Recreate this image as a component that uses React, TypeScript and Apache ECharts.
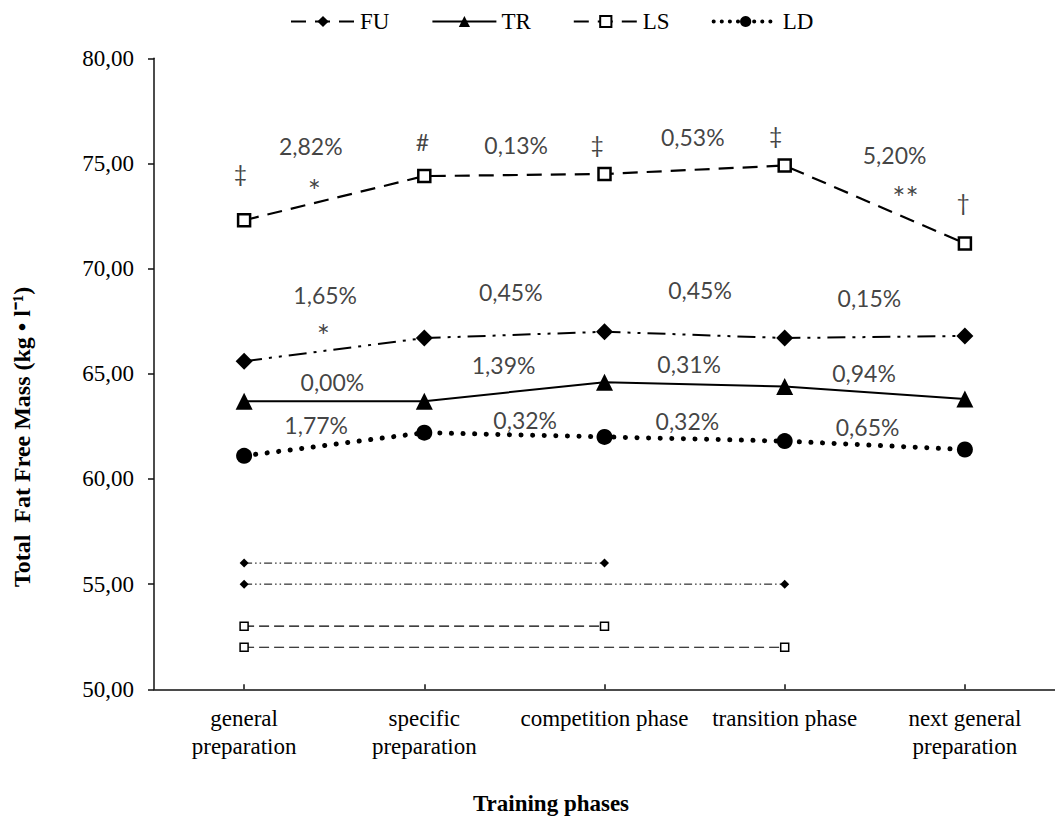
import React, { useEffect, useRef } from "react";
import * as echarts from "echarts";

const categories = [
  "general\npreparation",
  "specific\npreparation",
  "competition phase",
  "transition phase",
  "next general\npreparation",
];
const seriesNames = ["FU", "TR", "LS", "LD"];
const fuValues = [65.6, 66.7, 67.0, 66.7, 66.8];
const trValues = [63.7, 63.7, 64.6, 64.4, 63.8];
const lsValues = [72.3, 74.4, 74.5, 74.9, 71.2];
const ldValues = [61.1, 62.2, 62.0, 61.8, 61.4];

// significance bars (bottom)
const fuSigA = [56, 56, 56, null, null];
const fuSigB = [55, 55, 55, 55, null];
const lsSigA = [53, 53, 53, null, null];
const lsSigB = [52, 52, 52, 52, null];

const yMin = 50;
const yMax = 80;
const yInterval = 5;

// annotations: text, x (category index units), y (value units)
const annTexts = [
  "‡", "2,82%", "*", "#", "0,13%", "‡", "0,53%", "‡", "5,20%", "**", "†",
  "1,65%", "*", "0,45%", "0,45%", "0,15%",
  "0,00%", "1,39%", "0,31%", "0,94%",
  "1,77%", "0,32%", "0,32%", "0,65%",
];
const annX = [
  -0.02, 0.37, 0.39, 0.99, 1.51, 1.96, 2.49, 2.95, 3.61, 3.67, 3.99,
  0.45, 0.44, 1.48, 2.53, 3.47,
  0.49, 1.44, 2.47, 3.44,
  0.4, 1.56, 2.46, 3.46,
];
const annY = [
  74.55, 75.84, 73.72, 76.03, 75.88, 75.93, 76.27, 76.36, 75.41, 73.4, 73.18,
  68.75, 66.83, 68.89, 68.99, 68.61,
  64.61, 65.42, 65.47, 65.04,
  62.57, 62.81, 62.76, 62.47,
];

const SERIF = "'Liberation Serif', 'Times New Roman', serif";
const SANS = "Lato, 'Open Sans', sans-serif";

function sigData(vals: (number | null)[], size: number) {
  const idx = vals.map((v, i) => (v == null ? -1 : i)).filter((i) => i >= 0);
  const first = idx[0];
  const last = idx[idx.length - 1];
  return vals.map((v, i) => ({
    value: v,
    symbolSize: i === first || i === last ? size : 0,
  }));
}

export default function App() {
  const ref = useRef<HTMLDivElement>(null);
  useEffect(() => {
    if (!ref.current) return;
    const chart = echarts.init(ref.current, undefined, { renderer: "svg" });
    const fuDash = [18, 7, 3, 7, 3, 7];
    const lsDash = [15, 9];
    const option: any = {
      animation: false,
      backgroundColor: "#fff",
      legend: {
        data: seriesNames.map((n) =>
          n === "LD"
            ? { name: n, lineStyle: { width: 4, type: [0.1, 8], cap: "round" } }
            : n === "FU"
            ? { name: n, lineStyle: { width: 2, type: [15, 9] } }
            : { name: n }
        ),
        left: 285,
        top: 5,
        itemWidth: 64,
        itemHeight: 14,
        itemGap: 42,
        textStyle: { fontFamily: SERIF, fontSize: 23, color: "#000" },
      },
      grid: { left: 154, top: 58.3, width: 905, height: 631 },
      xAxis: [
        {
          type: "category",
          data: categories,
          boundaryGap: true,
          axisLine: { onZero: false, lineStyle: { color: "#111", width: 1.5 } },
          axisTick: { show: true, inside: true, length: 5, alignWithLabel: true, lineStyle: { color: "#111", width: 1.5 } },
          axisLabel: {
            interval: 0,
            margin: 15,
            fontFamily: SERIF,
            fontSize: 23,
            lineHeight: 28,
            color: "#000",
          },
          splitLine: { show: false },
        },
        {
          type: "value",
          min: -0.5,
          max: 4.5,
          show: false,
          axisLine: { onZero: false },
          splitLine: { show: false },
        },
      ],
      yAxis: {
        type: "value",
        min: yMin,
        max: yMax,
        interval: yInterval,
        axisLine: { show: true, onZero: false, lineStyle: { color: "#111", width: 1.5 } },
        axisTick: { show: true, length: 6, lineStyle: { color: "#111", width: 1.5 } },
        splitLine: { show: false },
        axisLabel: {
          margin: 20,
          fontFamily: SERIF,
          fontSize: 23,
          color: "#000",
          formatter: (v: number) => v.toFixed(2).replace(".", ","),
        },
      },
      series: [
        {
          name: "FU",
          type: "line",
          data: fuValues,
          symbol: "diamond",
          symbolSize: 17,
          itemStyle: { color: "#000" },
          lineStyle: { color: "#000", width: 2, type: fuDash },
          z: 3,
        },
        {
          name: "TR",
          type: "line",
          data: trValues,
          symbol: "triangle",
          symbolSize: 17,
          itemStyle: { color: "#000" },
          lineStyle: { color: "#000", width: 2, type: "solid" },
          z: 3,
        },
        {
          name: "LS",
          type: "line",
          data: lsValues,
          symbol: "rect",
          symbolSize: 12,
          itemStyle: { color: "#fff", borderColor: "#000", borderWidth: 2.5 },
          lineStyle: { color: "#000", width: 2.2, type: lsDash },
          z: 3,
        },
        {
          name: "LD",
          type: "line",
          data: ldValues,
          symbol: "circle",
          symbolSize: 16,
          itemStyle: { color: "#000" },
          lineStyle: { color: "#000", width: 5, type: [0.1, 11.5], cap: "round" },
          z: 3,
        },
        {
          name: "fuSigA",
          type: "line",
          data: sigData(fuSigA, 9),
          symbol: "diamond",
          itemStyle: { color: "#000" },
          lineStyle: { color: "#000", width: 1, type: [8, 3, 1.5, 3, 1.5, 3] },
          silent: true,
        },
        {
          name: "fuSigB",
          type: "line",
          data: sigData(fuSigB, 9),
          symbol: "diamond",
          itemStyle: { color: "#000" },
          lineStyle: { color: "#000", width: 1, type: [8, 3, 1.5, 3, 1.5, 3] },
          silent: true,
        },
        {
          name: "lsSigA",
          type: "line",
          data: sigData(lsSigA, 8),
          symbol: "rect",
          itemStyle: { color: "#fff", borderColor: "#000", borderWidth: 1.5 },
          lineStyle: { color: "#000", width: 1.2, type: [10, 5] },
          silent: true,
        },
        {
          name: "lsSigB",
          type: "line",
          data: sigData(lsSigB, 8),
          symbol: "rect",
          itemStyle: { color: "#fff", borderColor: "#000", borderWidth: 1.5 },
          lineStyle: { color: "#000", width: 1.2, type: [10, 5] },
          silent: true,
        },
        {
          name: "annotations",
          type: "scatter",
          xAxisIndex: 1,
          yAxisIndex: 0,
          symbolSize: 1,
          itemStyle: { color: "transparent" },
          silent: true,
          data: annTexts.map((t, i) => ({
            name: t,
            value: [annX[i], annY[i]],
            label: t.indexOf("*") >= 0 ? { fontSize: 31 } : undefined,
          })),
          label: {
            show: true,
            position: "inside",
            formatter: "{b}",
            fontFamily: SANS,
            fontSize: 23,
            color: "#111",
          },
          z: 5,
        },
      ],
      graphic: [
        {
          type: "text",
          x: 551,
          y: 803,
          style: {
            text: "Training phases",
            fontFamily: SERIF,
            fontSize: 23,
            fontWeight: "bold",
            fill: "#000",
            align: "center",
            verticalAlign: "middle",
          },
        },
        {
          type: "text",
          x: 22,
          y: 437,
          rotation: Math.PI / 2,
          style: {
            text: "Total  Fat Free Mass (kg • l⁻¹)",
            fontFamily: SERIF,
            fontSize: 24,
            fontWeight: "bold",
            fill: "#000",
            align: "center",
            verticalAlign: "middle",
          },
        },
      ],
    };
    chart.setOption(option);
    return () => chart.dispose();
  }, []);
  return (
    <div
      ref={ref}
      style={{ position: "fixed", left: 0, top: 0, width: 1055, height: 823, background: "#fff" }}
    />
  );
}
